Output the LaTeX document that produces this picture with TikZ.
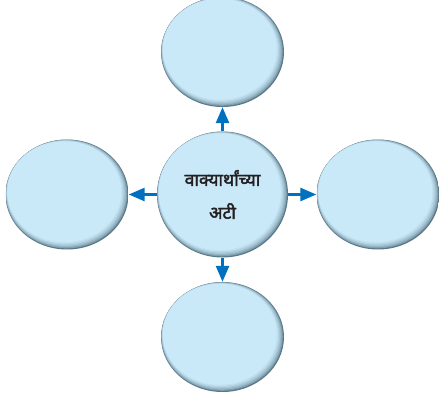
\documentclass[tikz,border=0pt]{standalone}
\usepackage{fontspec}
\newfontfamily\devfont[Script=Devanagari,FakeBold=2.2]{Noto Sans}
\usetikzlibrary{shapes.geometric,arrows.meta,calc}

\definecolor{bubblefill}{HTML}{C9E9F8}
\definecolor{bubblerim}{HTML}{5A7888}
\definecolor{arrowblue}{HTML}{0070C0}
\definecolor{textdark}{HTML}{231F20}

\tikzset{
  bubble/.style={ellipse, inner sep=0pt, minimum width=123pt, minimum height=110pt,
    path picture={
      \fill[bubblerim] (path picture bounding box.south west) rectangle (path picture bounding box.north east);
      \foreach \s/\m in {1/35,2/55,3/70,4/82,5/92,6/100}{
        \fill[bubblefill!\m!bubblerim]
          let \p1=(path picture bounding box.center), \p2=(path picture bounding box.north east)
          in ($(\p1)+(-0.45*\s pt,0.45*\s pt)$) ellipse [x radius=\x2-\x1-0.75*\s pt, y radius=\y2-\y1-0.75*\s pt];
      }
    }},
  link/.style={draw=arrowblue, line width=2.6pt, -{Triangle[length=16pt,width=13pt]}}
}

\begin{document}
\begin{tikzpicture}[x=1pt,y=1pt,node distance=142.5pt]
      \useasboundingbox (0,0) rectangle (439,397);
      \node[bubble,minimum width=131pt,minimum height=126pt,align=center,text=textdark,
            font=\devfont\fontsize{17.5}{20}\selectfont] (1) at (222.5,202.5)
            {वाक्यार्थांच्या\\[13pt]अटी};
      \node[bubble,above of=1] (2) {};
      \node[bubble,left of=1,xshift=-13pt] (3) {};
      \node[bubble,right of=1,xshift=13pt] (4) {};
      \node[bubble,below of=1] (5) {};

      \draw[link] (1) -- (2);
      \draw[link] (1) -- (3);
      \draw[link] (1) -- (4);
      \draw[link] (1) -- (5);
    \end{tikzpicture}
\end{document}
